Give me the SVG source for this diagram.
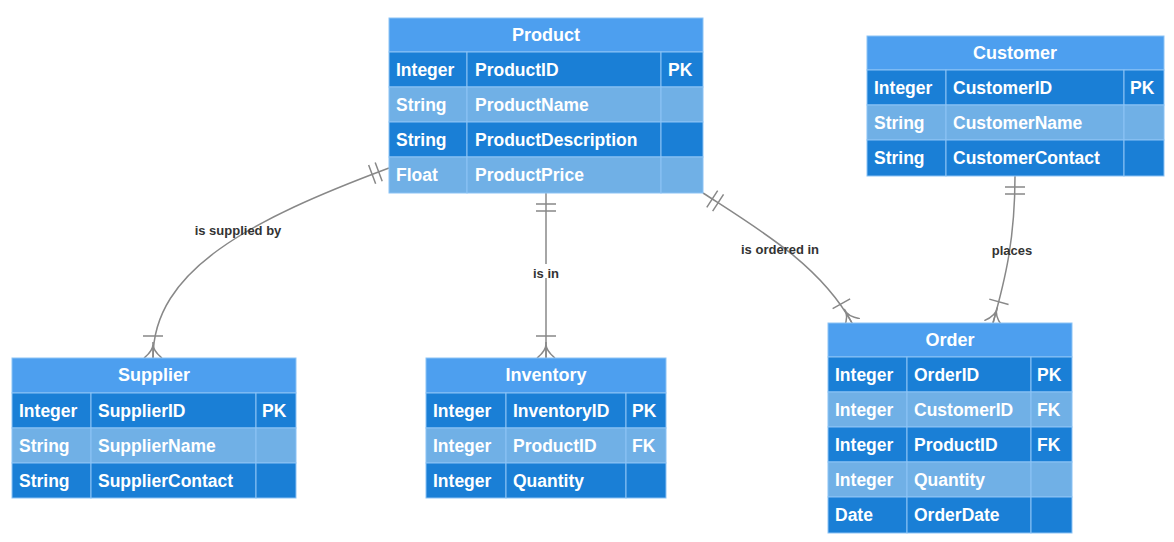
<svg xmlns="http://www.w3.org/2000/svg" width="1174" height="542" viewBox="0 0 1174 542">
<style>
.h{fill:#4d9fef;stroke:#8cc3f5;stroke-width:1}
.d{fill:#1a7fd6;stroke:#8cc3f5;stroke-width:1}
.l{fill:#70b0e6;stroke:#8cc3f5;stroke-width:1}
text{font-family:"Liberation Sans",Arial,sans-serif;font-weight:bold}
.ht{fill:#fff;font-size:18px;text-anchor:middle}
.t{fill:#fff;font-size:17.5px}
.lb{fill:#333;font-size:13px;text-anchor:middle}
.c{fill:none;stroke:#888;stroke-width:1.5}
</style>
<defs>
<marker id="one" markerUnits="userSpaceOnUse" viewBox="0 0 30 24" refX="30" refY="12" markerWidth="30" markerHeight="24" orient="auto-start-reverse">
<path d="M12,2V22M19,2V22" stroke="#888" stroke-width="1.5" fill="none"/>
</marker>
<marker id="many" markerUnits="userSpaceOnUse" viewBox="0 0 30 24" refX="30" refY="12" markerWidth="30" markerHeight="24" orient="auto">
<path d="M8,2V22M14,12Q22,13 30,3M14,12Q22,11 30,21M14,12H30" stroke="#888" stroke-width="1.5" fill="none"/>
</marker>
</defs>
<g id="connectors">
<path class="c" d="M389,168C250,220 153,270 153,358" marker-start="url(#one)" marker-end="url(#many)"/>
<path class="c" d="M546,193V358" marker-start="url(#one)" marker-end="url(#many)"/>
<path class="c" d="M703,193C760,230 820,265 852,323" marker-start="url(#one)" marker-end="url(#many)"/>
<path class="c" d="M1015,176C1015,240 1005,280 993,323" marker-start="url(#one)" marker-end="url(#many)"/>
<text class="lb" x="238" y="235">is supplied by</text>
<rect x="531" y="264" width="30" height="14" fill="#fff"/>
<text class="lb" x="546" y="278">is in</text>
<text class="lb" x="780" y="254">is ordered in</text>
<text class="lb" x="1012" y="255">places</text>
</g>
<g id="product">
<rect class="h" x="389" y="18" width="314" height="34"/><text class="ht" x="546" y="41">Product</text>
<rect class="d" x="389" y="52" width="78" height="35"/><rect class="d" x="467" y="52" width="194" height="35"/><rect class="d" x="661" y="52" width="42" height="35"/>
<rect class="l" x="389" y="87" width="78" height="35"/><rect class="l" x="467" y="87" width="194" height="35"/><rect class="l" x="661" y="87" width="42" height="35"/>
<rect class="d" x="389" y="122" width="78" height="35"/><rect class="d" x="467" y="122" width="194" height="35"/><rect class="d" x="661" y="122" width="42" height="35"/>
<rect class="l" x="389" y="157" width="78" height="36"/><rect class="l" x="467" y="157" width="194" height="36"/><rect class="l" x="661" y="157" width="42" height="36"/>
<text class="t" x="396" y="76">Integer</text><text class="t" x="475" y="76">ProductID</text><text class="t" x="668" y="76">PK</text>
<text class="t" x="396" y="111">String</text><text class="t" x="475" y="111">ProductName</text>
<text class="t" x="396" y="146">String</text><text class="t" x="475" y="146">ProductDescription</text>
<text class="t" x="396" y="181">Float</text><text class="t" x="475" y="181">ProductPrice</text>
</g>
<g id="customer">
<rect class="h" x="867" y="36" width="297" height="34"/><text class="ht" x="1015" y="59">Customer</text>
<rect class="d" x="867" y="70" width="79" height="35"/><rect class="d" x="946" y="70" width="178" height="35"/><rect class="d" x="1124" y="70" width="40" height="35"/>
<rect class="l" x="867" y="105" width="79" height="35"/><rect class="l" x="946" y="105" width="178" height="35"/><rect class="l" x="1124" y="105" width="40" height="35"/>
<rect class="d" x="867" y="140" width="79" height="36"/><rect class="d" x="946" y="140" width="178" height="36"/><rect class="d" x="1124" y="140" width="40" height="36"/>
<text class="t" x="874" y="94">Integer</text><text class="t" x="953" y="94">CustomerID</text><text class="t" x="1130" y="94">PK</text>
<text class="t" x="874" y="129">String</text><text class="t" x="953" y="129">CustomerName</text>
<text class="t" x="874" y="164">String</text><text class="t" x="953" y="164">CustomerContact</text>
</g>
<g id="supplier">
<rect class="h" x="12" y="358" width="284" height="35"/><text class="ht" x="154" y="381">Supplier</text>
<rect class="d" x="12" y="393" width="79" height="35"/><rect class="d" x="91" y="393" width="165" height="35"/><rect class="d" x="256" y="393" width="40" height="35"/>
<rect class="l" x="12" y="428" width="79" height="35"/><rect class="l" x="91" y="428" width="165" height="35"/><rect class="l" x="256" y="428" width="40" height="35"/>
<rect class="d" x="12" y="463" width="79" height="35"/><rect class="d" x="91" y="463" width="165" height="35"/><rect class="d" x="256" y="463" width="40" height="35"/>
<text class="t" x="19" y="417">Integer</text><text class="t" x="98" y="417">SupplierID</text><text class="t" x="262" y="417">PK</text>
<text class="t" x="19" y="452">String</text><text class="t" x="98" y="452">SupplierName</text>
<text class="t" x="19" y="487">String</text><text class="t" x="98" y="487">SupplierContact</text>
</g>
<g id="inventory">
<rect class="h" x="426" y="358" width="240" height="35"/><text class="ht" x="546" y="381">Inventory</text>
<rect class="d" x="426" y="393" width="80" height="35"/><rect class="d" x="506" y="393" width="120" height="35"/><rect class="d" x="626" y="393" width="40" height="35"/>
<rect class="l" x="426" y="428" width="80" height="35"/><rect class="l" x="506" y="428" width="120" height="35"/><rect class="l" x="626" y="428" width="40" height="35"/>
<rect class="d" x="426" y="463" width="80" height="35"/><rect class="d" x="506" y="463" width="120" height="35"/><rect class="d" x="626" y="463" width="40" height="35"/>
<text class="t" x="433" y="417">Integer</text><text class="t" x="513" y="417">InventoryID</text><text class="t" x="632" y="417">PK</text>
<text class="t" x="433" y="452">Integer</text><text class="t" x="513" y="452">ProductID</text><text class="t" x="632" y="452">FK</text>
<text class="t" x="433" y="487">Integer</text><text class="t" x="513" y="487">Quantity</text>
</g>
<g id="order">
<rect class="h" x="828" y="323" width="244" height="34"/><text class="ht" x="950" y="346">Order</text>
<rect class="d" x="828" y="357" width="79" height="35"/><rect class="d" x="907" y="357" width="124" height="35"/><rect class="d" x="1031" y="357" width="41" height="35"/>
<rect class="l" x="828" y="392" width="79" height="35"/><rect class="l" x="907" y="392" width="124" height="35"/><rect class="l" x="1031" y="392" width="41" height="35"/>
<rect class="d" x="828" y="427" width="79" height="35"/><rect class="d" x="907" y="427" width="124" height="35"/><rect class="d" x="1031" y="427" width="41" height="35"/>
<rect class="l" x="828" y="462" width="79" height="35"/><rect class="l" x="907" y="462" width="124" height="35"/><rect class="l" x="1031" y="462" width="41" height="35"/>
<rect class="d" x="828" y="497" width="79" height="36"/><rect class="d" x="907" y="497" width="124" height="36"/><rect class="d" x="1031" y="497" width="41" height="36"/>
<text class="t" x="835" y="381">Integer</text><text class="t" x="914" y="381">OrderID</text><text class="t" x="1037" y="381">PK</text>
<text class="t" x="835" y="416">Integer</text><text class="t" x="914" y="416">CustomerID</text><text class="t" x="1037" y="416">FK</text>
<text class="t" x="835" y="451">Integer</text><text class="t" x="914" y="451">ProductID</text><text class="t" x="1037" y="451">FK</text>
<text class="t" x="835" y="486">Integer</text><text class="t" x="914" y="486">Quantity</text>
<text class="t" x="835" y="521">Date</text><text class="t" x="914" y="521">OrderDate</text>
</g>
</svg>
